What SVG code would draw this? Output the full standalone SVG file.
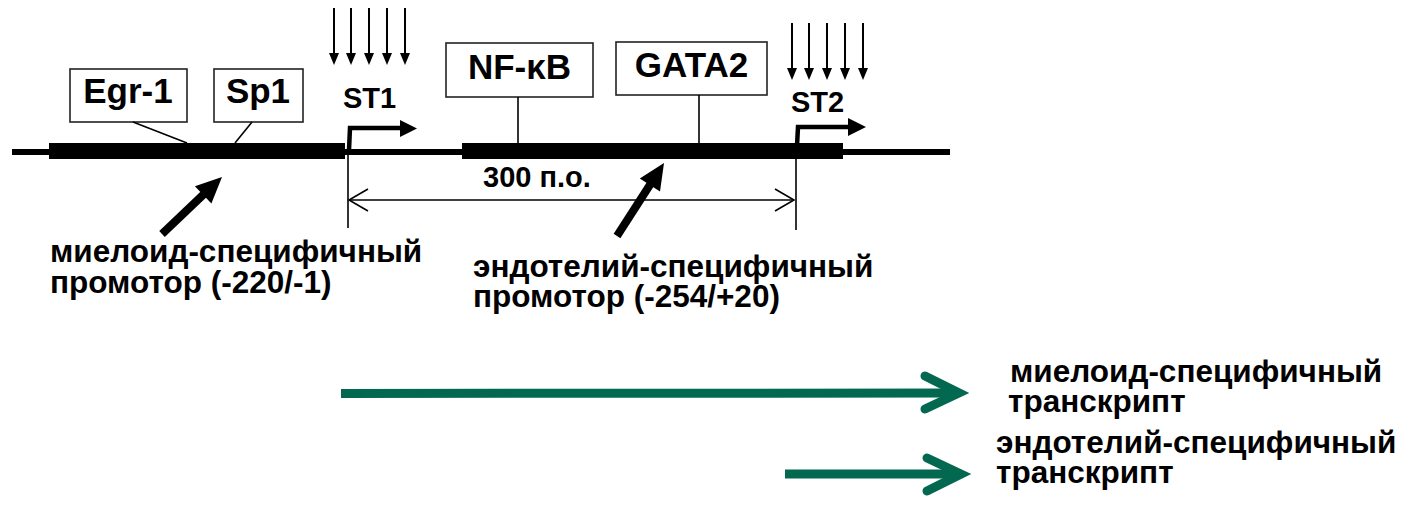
<svg xmlns="http://www.w3.org/2000/svg" width="1414" height="509" viewBox="0 0 1414 509">
  <style>
    text { font-family: "Liberation Sans", Arial, sans-serif; font-weight: bold; fill: #000; }
    .lbl { font-size: 35px; text-anchor: middle; }
    .st { font-size: 29px; }
    .cap { font-size: 31.5px; }
    .box { fill: #fff; stroke: #222; stroke-width: 1.6; }
    .thin { stroke: #000; stroke-width: 1.6; fill: none; }
    .dna { stroke: #000; stroke-width: 6; }
    .hit { stroke: #000; stroke-width: 2; marker-end: url(#down); }
    .tss { stroke: #000; stroke-width: 4.5; fill: none; }
    .ptr { stroke: #000; stroke-width: 8; }
    .rna { stroke: #02684f; stroke-width: 9; fill: none; stroke-linecap: butt; }
    .rnahead { stroke: #02684f; stroke-width: 9; fill: none; stroke-linecap: round; stroke-linejoin: miter; }
  </style>
  <defs>
    <marker id="down" markerUnits="userSpaceOnUse" viewBox="0 0 12 10" markerWidth="12" markerHeight="10" refX="0" refY="5" orient="auto">
      <path d="M0,0 L12,5 L0,10 Z" fill="#000"/>
    </marker>
    <marker id="open" markerUnits="userSpaceOnUse" viewBox="-1 -1 22 24" markerWidth="22" markerHeight="24" refX="19" refY="11" orient="auto-start-reverse">
      <path d="M0,0 L19,11 L0,22" fill="none" stroke="#000" stroke-width="1.6"/>
    </marker>
  </defs>

  <!-- DNA strand with the two promoter blocks -->
  <g id="dna">
    <line class="dna" x1="12" y1="152" x2="950" y2="152"/>
    <rect id="promoter-myeloid" x="49" y="143" width="296" height="16" fill="#000"/>
    <rect id="promoter-endothelial" x="462" y="143" width="381" height="16" fill="#000"/>
  </g>

  <!-- transcription factor sites -->
  <g id="egr1">
    <rect class="box" x="70" y="69" width="117" height="53"/>
    <text class="lbl" x="128" y="103">Egr-1</text>
  </g>
  <g id="sp1">
    <rect class="box" x="214" y="69" width="89" height="53"/>
    <text class="lbl" x="258" y="103">Sp1</text>
  </g>
  <g id="nfkb">
    <rect class="box" x="446" y="43" width="147" height="54"/>
    <text class="lbl" x="519.5" y="79">NF-κB</text>
  </g>
  <g id="gata2">
    <rect class="box" x="616" y="42" width="151" height="53"/>
    <text class="lbl" x="691.5" y="77">GATA2</text>
  </g>

  <!-- start sites -->
  <g id="st1">
    <line class="hit" x1="334" y1="8" x2="334" y2="53"/>
    <line class="hit" x1="351" y1="8" x2="351" y2="53"/>
    <line class="hit" x1="369" y1="8" x2="369" y2="53"/>
    <line class="hit" x1="387" y1="8" x2="387" y2="53"/>
    <line class="hit" x1="405" y1="8" x2="405" y2="53"/>
    <text class="st" x="343" y="108">ST1</text>
    <polyline class="tss" points="349,150 350,128 401,128"/>
    <polygon points="400,120 417,128.5 400,137" fill="#000"/>
  </g>
  <g id="st2">
    <line class="hit" x1="792" y1="23" x2="792" y2="68"/>
    <line class="hit" x1="809" y1="23" x2="809" y2="68"/>
    <line class="hit" x1="827" y1="23" x2="827" y2="68"/>
    <line class="hit" x1="845" y1="23" x2="845" y2="68"/>
    <line class="hit" x1="863" y1="23" x2="863" y2="68"/>
    <text class="st" x="791" y="112">ST2</text>
    <polyline class="tss" points="797,146 798,127 849,127"/>
    <polygon points="848,118 866,127 848,136" fill="#000"/>
  </g>

  <!-- promoter captions -->
  <g id="cap-myeloid">
    <text class="cap" x="50" y="262"><tspan x="50" y="262">миелоид-специфичный</tspan><tspan x="50" y="293">промотор (-220/-1)</tspan></text>
  </g>
  <g id="cap-endothelial">
    <text class="cap" x="473" y="277"><tspan x="473" y="277">эндотелий-специфичный</tspan><tspan x="473" y="307">промотор (-254/+20)</tspan></text>
  </g>
  <g id="distance">
    <text class="st" x="483" y="187">300 п.о.</text>
  </g>

  <!-- transcripts -->
  <g id="tr-myeloid">
    <text class="cap" x="1010" y="382"><tspan x="1010" y="382">миелоид-специфичный</tspan><tspan x="1008" y="412">транскрипт</tspan></text>
  </g>
  <g id="tr-endothelial">
    <text class="cap" x="996" y="453"><tspan x="996" y="453">эндотелий-специфичный</tspan><tspan x="996" y="483">транскрипт</tspan></text>
  </g>

  <!-- connectors -->
  <g id="connectors">
    <line class="thin" x1="133" y1="122" x2="187" y2="143"/>
    <line class="thin" x1="252" y1="122" x2="235" y2="143"/>
    <line class="thin" x1="518" y1="97" x2="518" y2="143"/>
    <line class="thin" x1="699" y1="95" x2="699" y2="143"/>

    <line class="thin" x1="348" y1="155" x2="348" y2="228"/>
    <line class="thin" x1="796" y1="155" x2="796" y2="230"/>
    <line class="thin" x1="349" y1="200" x2="794" y2="200" marker-start="url(#open)" marker-end="url(#open)"/>

    <line class="ptr" x1="162" y1="234" x2="204" y2="194"/>
    <polygon points="222,177 211.4,203.6 194.9,186.2" fill="#000"/>
    <line class="ptr" x1="617" y1="236" x2="650.5" y2="184"/>
    <polygon points="664,163 660,191.4 639.8,178.4" fill="#000"/>

    <line class="rna" x1="341" y1="393.5" x2="958" y2="393"/>
    <polyline class="rnahead" points="925,376 959,393 925,409"/>
    <line class="rna" x1="785" y1="474" x2="960" y2="474"/>
    <polyline class="rnahead" points="927,458 961,474 927,491"/>
  </g>
</svg>
